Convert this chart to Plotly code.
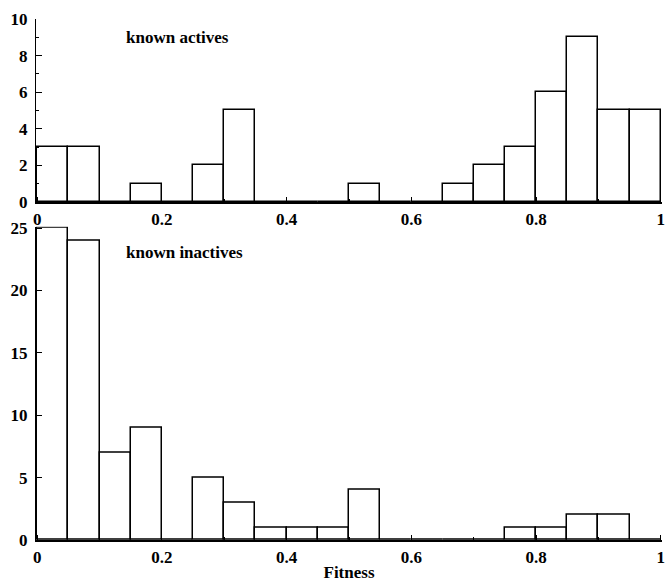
import plotly.graph_objects as go
from plotly.subplots import make_subplots

# Histogram bins of width 0.05 over the fitness range [0, 1]
bin_left = [round(i * 0.05, 2) for i in range(20)]
bin_width = 0.05

actives_counts = [3, 3, 0, 1, 0, 2, 5, 0, 0, 0, 1, 0, 0, 1, 2, 3, 6, 9, 5, 5]
inactives_counts = [25, 24, 7, 9, 0, 5, 3, 1, 1, 1, 4, 0, 0, 0, 0, 1, 1, 2, 2, 0]

x_ticks = [0, 0.2, 0.4, 0.6, 0.8, 1]
x_ticklabels = ["0", "0.2", "0.4", "0.6", "0.8", "1"]
top_yticks = [0, 2, 4, 6, 8, 10]
bottom_yticks = [0, 5, 10, 15, 20, 25]

FONT = "Liberation Serif"
tickfont = dict(family=FONT, size=17, color="black", weight="bold")
labelfont = dict(family=FONT, size=17, color="black", weight="bold")

centers = [b + bin_width / 2 for b in bin_left]

fig = make_subplots(rows=2, cols=1, shared_xaxes=False, vertical_spacing=0.05)

bar_style = dict(color="white", line=dict(color="black", width=1.5))
fig.add_trace(go.Bar(x=centers, y=actives_counts, width=bin_width,
                     marker=bar_style, showlegend=False), row=1, col=1)
fig.add_trace(go.Bar(x=centers, y=inactives_counts, width=bin_width,
                     marker=bar_style, showlegend=False), row=2, col=1)

xaxis_common = dict(
    range=[-0.002, 1.002], tickvals=x_ticks, ticktext=x_ticklabels,
    showgrid=False, zeroline=False, showline=True, linecolor="black", linewidth=2,
    ticks="inside", ticklen=5, tickwidth=1, tickcolor="black",
    minor=dict(dtick=0.1, ticks="inside", ticklen=3, tickcolor="black", showgrid=False),
    tickfont=tickfont, ticklabelstandoff=1, ticklabeloverflow="allow",
)
yaxis_common = dict(
    showgrid=False, zeroline=False, showline=True, linecolor="black", linewidth=1,
    ticks="inside", ticklen=6, tickwidth=1, tickcolor="black",
    tickfont=tickfont, ticklabelstandoff=4,
)

fig.update_xaxes(**xaxis_common, row=1, col=1)
fig.update_xaxes(**xaxis_common, row=2, col=1)
fig.update_xaxes(title=dict(text="Fitness", font=labelfont, standoff=0), row=2, col=1)

fig.update_yaxes(**yaxis_common, range=[0, 10], tickvals=top_yticks,
                 minor=dict(dtick=1, ticks="inside", ticklen=3, tickcolor="black", showgrid=False),
                 row=1, col=1)
# a little headroom above 25 so the tallest bar's top edge is not clipped
fig.update_yaxes(**yaxis_common, range=[0, 25.1], tickvals=bottom_yticks, row=2, col=1)

fig.update_layout(
    width=668, height=582,
    margin=dict(l=36, r=3, t=19, b=42),
    plot_bgcolor="white", paper_bgcolor="white",
    bargap=0,
    xaxis=dict(domain=[0, 1]),
    yaxis=dict(domain=[0.6488, 1]),
    yaxis2=dict(domain=[0, 0.6012]),
)

fig.add_annotation(x=0.139, y=9.0, xref="x", yref="y", text="known actives",
                   showarrow=False, xanchor="left", yanchor="middle", font=labelfont)
fig.add_annotation(x=0.139, y=23.0, xref="x2", yref="y2", text="known inactives",
                   showarrow=False, xanchor="left", yanchor="middle", font=labelfont)

fig.write_html("out.html")
